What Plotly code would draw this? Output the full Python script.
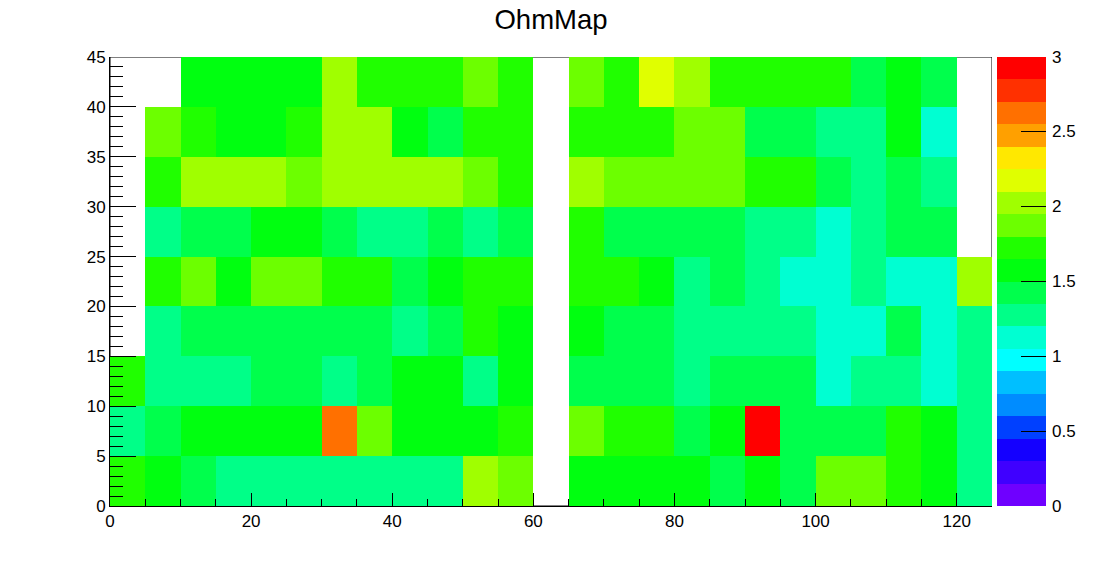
import plotly.graph_objects as go

# bin centres (5-unit bins)
x_centers = [2.5 + 5 * i for i in range(25)]
y_centers = [2.5 + 5 * j for j in range(9)]

N = None
# rows from bottom (y 0-5) to top (y 40-45), 25 columns each (x 0-5 ... 120-125)
row_y0 = [1.72, 1.58, 1.42, 1.28, 1.28, 1.28, 1.28, 1.28, 1.28, 1.28, 2.02, 1.88, N,
          1.58, 1.58, 1.58, 1.58, 1.42, 1.58, 1.42, 1.88, 1.88, 1.72, 1.58, 1.28]
row_y5 = [1.28, 1.42, 1.58, 1.58, 1.58, 1.58, 2.62, 1.88, 1.58, 1.58, 1.58, 1.72, N,
          1.88, 1.72, 1.72, 1.42, 1.58, 2.92, 1.42, 1.42, 1.42, 1.72, 1.58, 1.28]
row_y10 = [1.72, 1.28, 1.28, 1.28, 1.42, 1.42, 1.28, 1.42, 1.58, 1.58, 1.28, 1.58, N,
           1.42, 1.42, 1.42, 1.28, 1.42, 1.42, 1.42, 1.12, 1.28, 1.28, 1.12, 1.28]
row_y15 = [N, 1.28, 1.42, 1.42, 1.42, 1.42, 1.42, 1.42, 1.28, 1.42, 1.72, 1.58, N,
           1.58, 1.42, 1.42, 1.28, 1.28, 1.28, 1.28, 1.12, 1.12, 1.42, 1.12, 1.28]
row_y20 = [N, 1.72, 1.88, 1.58, 1.88, 1.88, 1.72, 1.72, 1.42, 1.58, 1.72, 1.72, N,
           1.72, 1.72, 1.58, 1.28, 1.42, 1.28, 1.12, 1.12, 1.28, 1.12, 1.12, 2.02]
row_y25 = [N, 1.28, 1.42, 1.42, 1.58, 1.58, 1.42, 1.28, 1.28, 1.42, 1.28, 1.42, N,
           1.72, 1.42, 1.42, 1.42, 1.42, 1.28, 1.28, 1.12, 1.28, 1.42, 1.42, N]
row_y30 = [N, 1.72, 2.02, 2.02, 2.02, 1.88, 2.02, 2.02, 2.02, 2.02, 1.88, 1.72, N,
           2.02, 1.88, 1.88, 1.88, 1.88, 1.72, 1.72, 1.42, 1.28, 1.42, 1.28, N]
row_y35 = [N, 1.88, 1.72, 1.58, 1.58, 1.72, 2.02, 2.02, 1.58, 1.42, 1.72, 1.72, N,
           1.72, 1.72, 1.72, 1.88, 1.88, 1.42, 1.42, 1.28, 1.28, 1.58, 1.12, N]
row_y40 = [N, N, 1.58, 1.58, 1.58, 1.58, 2.02, 1.72, 1.72, 1.72, 1.88, 1.72, N,
           1.88, 1.72, 2.18, 2.02, 1.72, 1.72, 1.72, 1.72, 1.42, 1.58, 1.42, N]

z_rows = [row_y0, row_y5, row_y10, row_y15, row_y20, row_y25, row_y30, row_y35, row_y40]

palette = ["#6F00FF", "#3F00FF", "#1400FF", "#0040FF", "#008CFF", "#00BFFF", "#00FFFF",
           "#00FFD2", "#00FF88", "#00FF4C", "#00FF10", "#20FF00", "#6CFF00", "#A0FF00",
           "#E0FF00", "#FFE800", "#FFA000", "#FF7000", "#FF3000", "#FF0000"]

z_min, z_max = 0, 3
cbar_ticks = [0, 0.5, 1, 1.5, 2, 2.5, 3]
cbar_labels = ["0", "0.5", "1", "1.5", "2", "2.5", "3"]
x_ticks = [0, 20, 40, 60, 80, 100, 120]
y_ticks = [0, 5, 10, 15, 20, 25, 30, 35, 40, 45]

n = len(palette)
colorscale = []
for i, c in enumerate(palette):
    colorscale.append([i / n, c])
    colorscale.append([(i + 1) / n, c])

W, H = 1102, 562
L, R, T, B = 110, 110, 57, 56
pw = W - L - R
FONT = "Liberation Sans, Arial, Helvetica, sans-serif"
TF = dict(family=FONT, size=17, color="black")

fig = go.Figure()
fig.add_trace(go.Heatmap(
    z=z_rows, x=x_centers, y=y_centers, zmin=z_min, zmax=z_max,
    colorscale=colorscale, hoverongaps=False,
    colorbar=dict(
        x=(997 - L) / pw, xanchor="left", xref="paper", xpad=0,
        y=0.5, yanchor="middle", len=1, lenmode="fraction", ypad=0,
        thickness=49, thicknessmode="pixels", outlinewidth=0,
        ticks="inside", ticklen=25, tickwidth=1, tickcolor="black",
        tickvals=cbar_ticks, showticklabels=False,
    ),
))

# colour-bar tick labels
for v, lab in zip(cbar_ticks, cbar_labels):
    fig.add_annotation(text=lab, xref="paper", yref="paper",
                       x=(1051 - L) / pw, y=(v - z_min) / (z_max - z_min),
                       xanchor="left", yanchor="middle", showarrow=False,
                       font=TF, borderpad=0)

fig.add_shape(type="rect", x0=0, x1=125, y0=0, y1=45, xref="x", yref="y",
              line=dict(color="black", width=1), layer="below")
fig.add_shape(type="line", xref="paper", yref="paper",
              x0=(1045.5 - L) / pw, x1=(1045.5 - L) / pw, y0=0, y1=1,
              line=dict(color="black", width=1), layer="above")

fig.update_layout(
    width=W, height=H,
    margin=dict(l=L, r=R, t=T, b=B, pad=0, autoexpand=False),
    paper_bgcolor="white", plot_bgcolor="white",
    title=dict(text="OhmMap", x=0.5, xref="container", xanchor="center",
               y=1 - 19 / H, yref="container", yanchor="middle",
               font=dict(family=FONT, size=27.5, color="black")),
    font=TF,
    xaxis=dict(range=[0, 125], tickvals=x_ticks, ticks="inside", ticklen=13,
               tickcolor="black", tickwidth=1, showline=True, linecolor="black",
               linewidth=1, showgrid=False, zeroline=False,
               minor=dict(dtick=5, tick0=0, ticks="inside", ticklen=7, tickcolor="black"),
               tickfont=TF),
    yaxis=dict(range=[0, 45], tickvals=y_ticks, ticks="inside", ticklen=26,
               tickcolor="black", tickwidth=1, showline=True, linecolor="black",
               linewidth=1, showgrid=False, zeroline=False,
               minor=dict(dtick=1, tick0=0, ticks="inside", ticklen=13, tickcolor="black"),
               tickfont=TF),
)

fig.write_html("out.html")
